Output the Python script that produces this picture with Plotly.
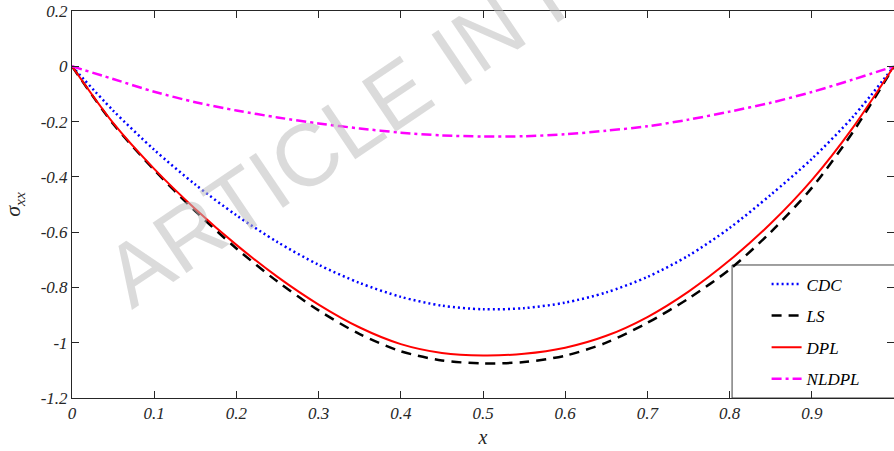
import plotly.graph_objects as go

x_vals = [0, 0.05, 0.10, 0.15, 0.20, 0.25, 0.30, 0.35, 0.40, 0.45, 0.50,
          0.55, 0.60, 0.65, 0.70, 0.75, 0.80, 0.85, 0.90, 0.95, 1.0]

cdc = [0, -0.16, -0.302, -0.428, -0.539, -0.636, -0.718, -0.784, -0.834, -0.866, -0.879,
       -0.875, -0.855, -0.818, -0.762, -0.685, -0.585, -0.465, -0.335, -0.183, 0]
ls = [0, -0.208, -0.375, -0.524, -0.659, -0.779, -0.883, -0.969, -1.031, -1.064, -1.075,
      -1.07, -1.047, -1.0, -0.928, -0.84, -0.735, -0.60, -0.44, -0.238, 0]
dpl = [0, -0.205, -0.371, -0.516, -0.646, -0.762, -0.862, -0.945, -1.005, -1.037, -1.046,
       -1.04, -1.018, -0.975, -0.907, -0.815, -0.702, -0.569, -0.412, -0.222, 0]
nldpl = [0, -0.046, -0.092, -0.13, -0.16, -0.185, -0.207, -0.225, -0.24, -0.25, -0.254,
         -0.253, -0.246, -0.233, -0.217, -0.193, -0.164, -0.132, -0.093, -0.048, 0]

series_names = ["CDC", "LS", "DPL", "NLDPL"]
series_data = [cdc, ls, dpl, nldpl]
series_colors = ["#0000ff", "#000000", "#ff0000", "#ff00ff"]
series_dash = ["2px,3px", "10px,7px", "solid", "10px,4px,3px,4px"]
series_width = [2.5, 2.5, 2, 2.5]

x_ticks = [0, 0.1, 0.2, 0.3, 0.4, 0.5, 0.6, 0.7, 0.8, 0.9, 1.0]
x_ticktext = ["0", "0.1", "0.2", "0.3", "0.4", "0.5", "0.6", "0.7", "0.8", "0.9", "1"]
y_ticks = [0.2, 0, -0.2, -0.4, -0.6, -0.8, -1.0, -1.2]
y_ticktext = ["0.2", "0", "-0.2", "-0.4", "-0.6", "-0.8", "-1", "-1.2"]

fig = go.Figure()
for i, (name, data) in enumerate(zip(series_names, series_data)):
    fig.add_trace(go.Scatter(
        x=x_vals, y=data, mode="lines", name=name,
        line=dict(color=series_colors[i], dash=series_dash[i], width=series_width[i],
                  shape="spline", smoothing=0.8),
        legendgroup=name,
    ))

serif = "Liberation Serif, Times New Roman, serif"
axis_font = dict(family=serif, size=17, color="#262626", style="italic")

fig.update_layout(
    width=894, height=451,
    margin=dict(l=72, r=0, t=11, b=53),
    paper_bgcolor="white", plot_bgcolor="white",
    showlegend=True,
    legend=dict(
        x=0.845, y=0.34, xanchor="left", yanchor="top",
        bgcolor="rgba(0,0,0,0)", borderwidth=0,
        font=dict(family=serif, size=17, color="#000000", style="italic"),
        traceorder="grouped", tracegroupgap=6.5,
    ),
    xaxis=dict(
        range=[0, 1], tickvals=x_ticks, ticktext=x_ticktext,
        ticks="inside", ticklen=7, tickcolor="#262626", tickwidth=1,
        showline=True, linecolor="#262626", linewidth=1, mirror="allticks",
        showgrid=False, zeroline=False, tickfont=axis_font,
        title=dict(text="<i>x</i>", font=dict(family=serif, size=20, color="#262626"), standoff=7),
    ),
    yaxis=dict(
        range=[-1.2, 0.2], tickvals=y_ticks, ticktext=y_ticktext,
        ticks="inside", ticklen=7, tickcolor="#262626", tickwidth=1,
        showline=True, linecolor="#262626", linewidth=1, mirror="allticks",
        showgrid=False, zeroline=False, tickfont=axis_font,
        title=dict(text="<i>σ<sub>xx</sub></i>", font=dict(family=serif, size=22, color="#262626"), standoff=24),
    ),
)

# legend frame
fig.add_shape(type="rect", xref="paper", yref="paper",
              x0=0.803, x1=1.01, y0=0, y1=0.3437,
              line=dict(color="#404040", width=1), fillcolor="white", layer="below")

# watermark
fig.add_annotation(
    text="ARTICLE IN PRESS", xref="paper", yref="paper",
    x=0.458, y=0.874, xanchor="center", yanchor="middle",
    showarrow=False, textangle=-34,
    font=dict(family="Liberation Sans", size=88, color="rgba(190,190,190,0.55)"),
)

fig.write_html("out.html")
